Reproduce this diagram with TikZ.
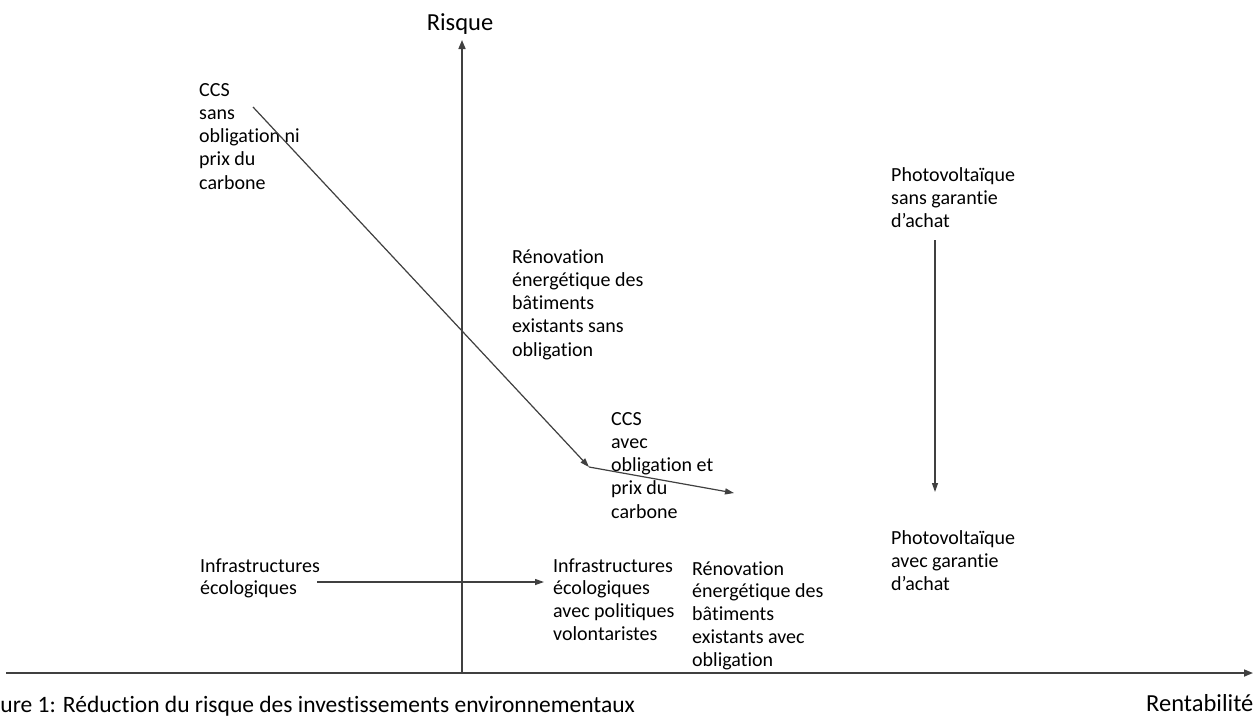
\documentclass[tikz,border=0pt]{standalone}
\usepackage{fontspec}
\setmainfont{Carlito}[Ligatures=NoCommon]
\usetikzlibrary{arrows.meta}
\begin{document}
\begin{tikzpicture}[x=1pt,y=-1pt,
  lbl/.style={anchor=base west, align=left, inner sep=0pt, font=\fontsize{20}{23.25}\selectfont},
  lblb/.style={lbl, font=\fontsize{20}{22.75}\selectfont},
  axlbl/.style={inner sep=0pt, font=\fontsize{24.5}{28}\selectfont},
  axis/.style={draw=black!75, line width=1.6pt, -{Triangle[length=9pt,width=7pt]}},
  conn/.style={draw=black!75, line width=1.2pt, -{Triangle[length=9pt,width=6pt]}}]
\clip (0,0) rectangle (1258,715);
\useasboundingbox (0,0) rectangle (1258,715);
\fill[white] (0,0) rectangle (1258,715);
% axes
\coordinate (xs) at (6,673);
\coordinate (xe) at (1253,673);
\coordinate (ys) at (462,673);
\coordinate (ye) at (462,40);
\draw[axis] (xs) -- (xe);
\draw[axis] (ys) -- (ye);
\node[axlbl, anchor=base] (risque) at (460,30) {Risque};
\node[axlbl, anchor=base west] (rent) at (1146,711) {Rentabilité};
\node[anchor=base west, inner sep=0pt, font=\fontsize{23.5}{27}\selectfont] (caption) at (-27,712) {Figure 1: Réduction du risque des investissements environnementaux};
% labels
\node[lbl] (ccs1) at (199,189) {CCS\\sans\\obligation ni\\prix du\\carbone};
\node[lbl] (renov1) at (512,356) {Rénovation\\énergétique des\\bâtiments\\existants sans\\obligation};
\node[lbl] (pv1) at (891,227.5) {Photovoltaïque\\sans garantie\\d’achat};
\node[lbl] (ccs2) at (611,518) {CCS\\avec\\obligation et\\prix du\\carbone};
\node[lbl] (pv2) at (891,590.5) {Photovoltaïque\\avec garantie\\d’achat};
\node[lblb] (infra1) at (200,594.75) {Infrastructures\\écologiques};
\node[lblb] (infra2) at (553,640.25) {Infrastructures\\écologiques\\avec politiques\\volontaristes};
\node[lblb] (renov2) at (692,666) {Rénovation\\énergétique des\\bâtiments\\existants avec\\obligation};
% connectors
\coordinate (ccsA) at (253,107);
\coordinate (ccsB) at (589,467);
\coordinate (ccsC) at (734,493);
\coordinate (pvA) at (935,240);
\coordinate (pvB) at (935,492);
\coordinate (infA) at (317,582);
\coordinate (infB) at (544,582);
\draw[conn] (ccsA) -- (ccsB);
\draw[conn] (ccsB) -- (ccsC);
\draw[conn] (pvA) -- (pvB);
\draw[conn] (infA) -- (infB);
\end{tikzpicture}
\end{document}
